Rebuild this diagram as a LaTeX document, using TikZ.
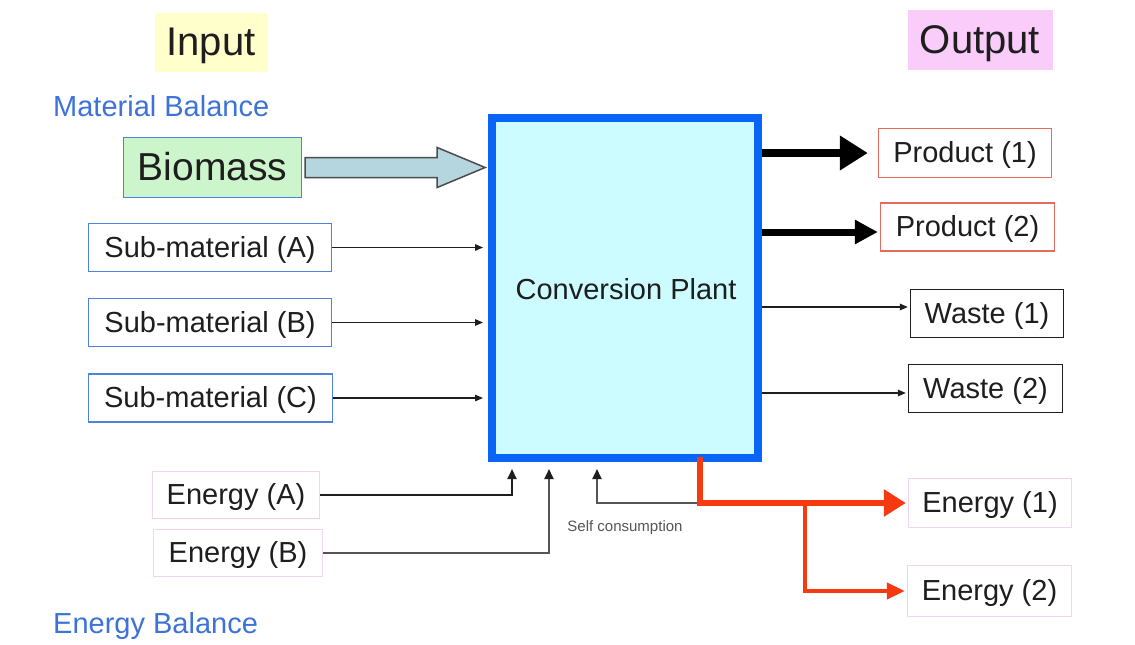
\documentclass[tikz,border=0pt]{standalone}
\usepackage{fontspec}
\setmainfont{Liberation Sans}
\usetikzlibrary{arrows.meta,calc}
\definecolor{txt}{HTML}{1E1E1E}
\definecolor{balblue}{HTML}{3D72D9}
\definecolor{boxblue}{HTML}{4F82DC}
\definecolor{plantblue}{HTML}{0A64F5}
\definecolor{plantfill}{HTML}{CCFCFF}
\definecolor{biofill}{HTML}{CCF5CC}
\definecolor{inbg}{HTML}{FFFFCC}
\definecolor{outbg}{HTML}{FACCFA}
\definecolor{prodred}{HTML}{E46A5E}
\definecolor{enpink}{HTML}{F0D4F0}
\definecolor{redarr}{HTML}{F53A12}
\definecolor{bigarr}{HTML}{B5D6DE}
\definecolor{grayline}{HTML}{555555}
\newcommand\myfs[1]{\fontsize{#1}{#1}\selectfont}
\begin{document}
\begin{tikzpicture}[x=1pt,y=-1pt,
  box/.style={draw, line width=1.3pt, inner sep=0pt, align=center, text=txt, font=\myfs{29},
              text height=21pt, text depth=2pt},
  subbox/.style={box, draw=boxblue},
  prodbox/.style={box, draw=prodred},
  wastebox/.style={box, draw=txt},
  enbox/.style={box, draw=enpink},
  title/.style={inner sep=0pt, text=txt, font=\myfs{40}, text height=29pt, text depth=2pt},
  baltext/.style={inner sep=0pt, anchor=west, text=balblue, font=\myfs{29}},
  thinarr/.style={line width=1.4pt, draw=txt, -{Triangle[length=8pt,width=6.5pt]}},
  enarr/.style={line width=1.8pt, -{Triangle[length=10pt,width=9pt,color=txt]}, shorten >=7pt},
  redmain/.style={draw=redarr, line width=6pt, -{Triangle[length=22pt,width=26pt]}, shorten >=2pt},
  redbranch/.style={draw=redarr, line width=4pt, -{Triangle[length=18pt,width=16pt]}, shorten >=2pt},
  bigblack/.style={draw=black, line width=8pt, -{Triangle[length=28pt,width=33pt]}, shorten >=10pt},
  bigblacktwo/.style={draw=black, line width=7pt, -{Triangle[length=23pt,width=23pt]}, shorten >=2pt}
]
\fill[white] (0,0) rectangle (1135,645);
\useasboundingbox (0,0) rectangle (1135,645);

% titles
\node[title, fill=inbg, minimum width=113pt, minimum height=59pt] (inp) at (211,42) {Input};
\node[title, fill=outbg, minimum width=145pt, minimum height=60pt] (outp) at (980,40) {Output};
\node[baltext] (matbal) at (53,106) {Material Balance};
\node[baltext] (enbal) at (53,626) {Energy Balance};

% plant
\node[draw=plantblue, fill=plantfill, line width=8pt, minimum width=266pt, minimum height=340pt,
      inner sep=0pt] (plant) at (625,288) {};
\node[inner sep=0pt, text=txt, font=\myfs{29}, text height=21pt, text depth=2pt] (plantlabel) at (626,290) {Conversion Plant};

% inputs
\node[box, draw=boxblue, fill=biofill, minimum width=178pt, minimum height=60pt, font=\myfs{39},
      text height=28pt, text depth=2pt] (bio) at (212.5,167.5) {Biomass};
\node[subbox, minimum width=243pt, minimum height=48pt] (subA) at (210,247.5) {Sub-material (A)};
\node[subbox, minimum width=243pt, minimum height=48pt] (subB) at (210,322.5) {Sub-material (B)};
\node[subbox, minimum width=244pt, minimum height=48pt] (subC) at (210.5,398) {Sub-material (C)};
\node[enbox, minimum width=167pt, minimum height=47pt] (eA) at (236,495) {Energy (A)};
\node[enbox, minimum width=169pt, minimum height=47pt] (eB) at (238,553) {Energy (B)};

% outputs
\node[prodbox, minimum width=173pt, minimum height=49pt] (p1) at (965,153) {Product (1)};
\node[prodbox, minimum width=174pt, minimum height=48pt] (p2) at (967.5,227) {Product (2)};
\node[wastebox, minimum width=153pt, minimum height=48pt] (w1) at (987,313.5) {Waste (1)};
\node[wastebox, minimum width=154pt, minimum height=48pt] (w2) at (985.5,388.5) {Waste (2)};
\node[enbox, minimum width=163pt, minimum height=49pt] (e1) at (990,503) {Energy (1)};
\node[enbox, minimum width=164pt, minimum height=51pt] (e2) at (989.5,591) {Energy (2)};

% biomass block arrow
\draw[fill=bigarr, draw=black!70, line width=1.5pt, line join=miter]
  (bio.east) ++(3,-10) -- ++(132,0) -- ++(0,-10) -- ++(48,20) -- ++(-48,20) -- ++(0,-10) -- ++(-132,0) -- cycle;

% sub-material arrows
\draw[thinarr, shorten >=5pt] (subA.east) -- (subA.east -| plant.west);
\draw[thinarr, shorten >=5pt] (subB.east) -- (subB.east -| plant.west);
\draw[thinarr, shorten >=5pt] (subC.east) -- (subC.east -| plant.west);

% products
\draw[bigblack] (plant.east |- p1.west) -- (p1.west);
\coordinate (p2in) at ($(p2.west)+(0,5)$);
\draw[bigblacktwo] (plant.east |- p2in) -- (p2in);

% wastes
\coordinate (w1in) at ($(w1.west)+(0,-6.5)$);
\coordinate (w2in) at ($(w2.west)+(0,4.5)$);
\draw[thinarr, shorten >=2pt] (plant.east |- w1in) -- (w1in);
\draw[thinarr, shorten >=2pt] (plant.east |- w2in) -- (w2in);

% energy inputs
\coordinate (pa) at ($(plant.south west)+(24,0)$);
\coordinate (pb) at ($(plant.south west)+(61,0)$);
\coordinate (sc) at ($(plant.south west)+(109,0)$);
\draw[enarr, draw=txt, line width=2.2pt] (eA.east) -| (pa);
\draw[enarr, draw=grayline] (eB.east) -| (pb);

% energy outputs
\coordinate (rs) at ($(plant.south west)+(212,-5)$);
\coordinate (rj) at (rs |- e1.west);
\coordinate (rb) at ($(rj)+(105,0)$);
\draw[enarr, draw=grayline] (rj) -| (sc);
\draw[redmain] (rs) |- (e1.west);
\draw[redbranch] (rb) |- (e2.west);
\node[inner sep=0pt, text=grayline, font=\myfs{15}] (selfc) at (625,528) {Self consumption};
\end{tikzpicture}
\end{document}
